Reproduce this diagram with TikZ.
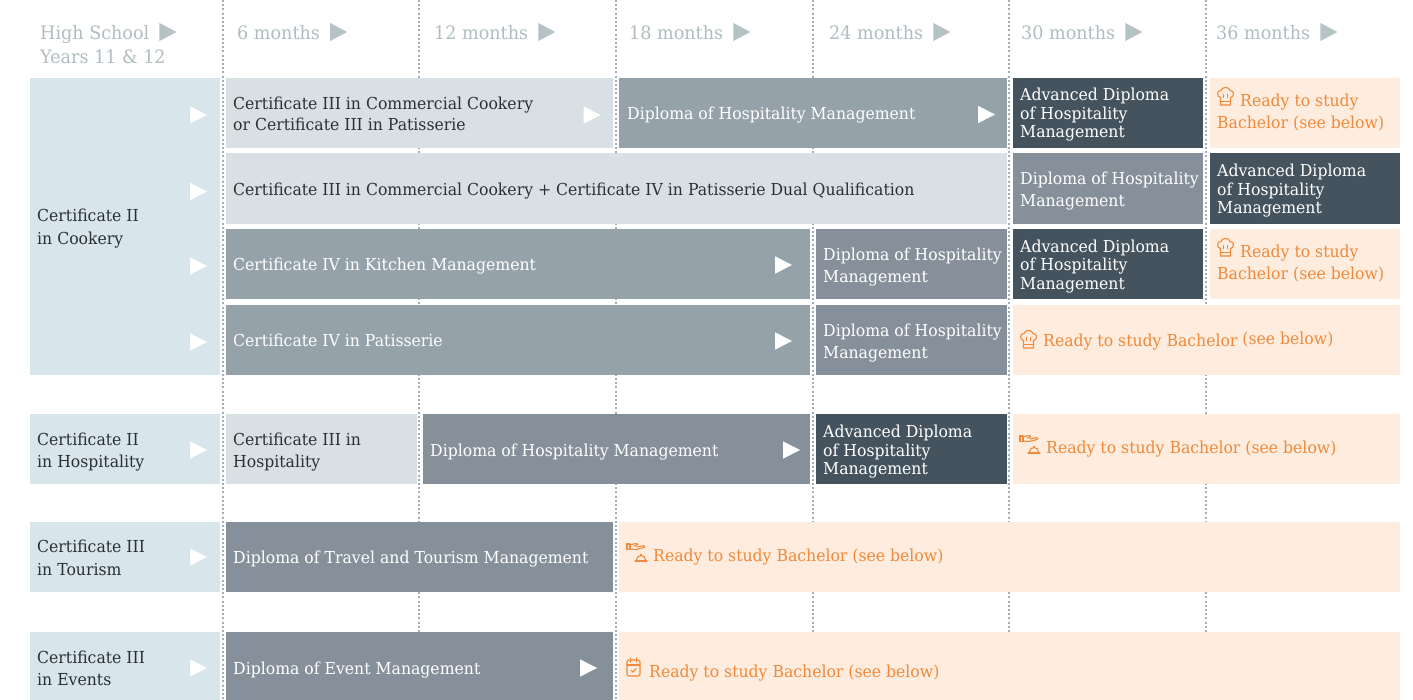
\documentclass[tikz,border=0pt]{standalone}
\usepackage{fontspec}
\setmainfont{DejaVu Serif}[FakeStretch=0.95]
\definecolor{lblue}{HTML}{D8E6EC}
\definecolor{lgray}{HTML}{D9E0E3}
\definecolor{mgray}{HTML}{95A2A9}
\definecolor{dgray}{HTML}{85909A}
\definecolor{slate}{HTML}{44535E}
\definecolor{peach}{HTML}{FEEDDF}
\definecolor{orng}{HTML}{F0893A}
\definecolor{hdrc}{HTML}{B1BDC0}
\definecolor{hdrtri}{HTML}{B5C3C5}
\definecolor{dotc}{HTML}{A0AFB6}
\definecolor{txtdark}{HTML}{2B3033}
\tikzset{
  txt/.style={anchor=base west, inner sep=0pt, font=\fontsize{16.5}{20}\selectfont},
  dark/.style={txt, text=txtdark},
  wht/.style={txt, text=white},
  org/.style={txt, text=orng},
  hdr/.style={anchor=base west, inner sep=0pt, font=\fontsize{18.5}{22}\selectfont, text=hdrc},
  dotline/.style={draw=dotc, line width=2pt, dash pattern=on 2pt off 2.2pt},
  icon/.style={draw=orng, line width=1.1pt, line join=round, line cap=round},
  chefhat/.pic={
    \draw[icon] (3.5,10.5) .. controls (-0.5,10) and (-0.5,3) .. (4,3.5) .. controls (4.5,-0.5) and (12.5,-0.5) .. (13,3.5) .. controls (17.5,3) and (17.5,10) .. (13.5,10.5) -- (13.5,18) -- (3.5,18) -- cycle;
    \draw[icon] (3.5,14.5) -- (13.5,14.5);
    \draw[icon] (6.8,7.5) -- (6.8,10.5);
    \draw[icon] (10.2,7.5) -- (10.2,10.5);
  },
  bellhand/.pic={
    \draw[icon] (0,1) rectangle (3,6.5);
    \draw[icon] (3,1.8) -- (9,0.5) .. controls (11,0.2) and (11.5,2) .. (9.5,2.5) -- (7,3);
    \draw[icon] (3,6) -- (9,6.5) -- (17,4.5) .. controls (18.5,4) and (18,2.3) .. (16.5,2.7) -- (10,4);
    \draw[icon] (9.5,17) arc (180:360:4.5);
    \draw[icon] (14,12.5) -- (14,11.3);
    \draw[icon] (8,18) -- (20,18);
  },
  calcheck/.pic={
    \draw[icon, rounded corners=1.5pt] (0,3) rectangle (13,19);
    \draw[icon] (0,8) -- (13,8);
    \draw[icon] (3.5,1) -- (3.5,5);
    \draw[icon] (9.5,1) -- (9.5,5);
    \draw[icon] (4,13.2) -- (6,15.2) -- (9.3,11.2);
  }
}
\newcommand\wtri[2]{\fill[white] (#1,#2) ++(0,-8.7) -- ++(17,8.7) -- ++(-17,8.7) -- cycle;}
\newcommand\htri[1]{\fill[hdrtri] (#1.base east) ++(10,-17) -- ++(17,9) -- ++(-17,9) -- cycle;}
\begin{document}
\begin{tikzpicture}[x=1pt,y=-1pt]
\useasboundingbox (0,0) rectangle (1413,700);
\fill[white] (0,0) rectangle (1413,700);
% dotted column lines
\foreach \xx in {222.5,419.2,615.9,812.6,1009.3,1206}
  \draw[dotline] (\xx,0) -- (\xx,700);
% header
\node[hdr] (hs1) at (40,40) {High School};
\htri{hs1}
\node[hdr] (hs2) at (40,64) {Years 11 \& 12};
\node[hdr] (m6) at (237,40) {6 months}; \htri{m6}
\node[hdr] (m12) at (434,40) {12 months}; \htri{m12}
\node[hdr] (m18) at (629,40) {18 months}; \htri{m18}
\node[hdr] (m24) at (829,40) {24 months}; \htri{m24}
\node[hdr] (m30) at (1021,40) {30 months}; \htri{m30}
\node[hdr] (m36) at (1216,40) {36 months}; \htri{m36}
% ---- boxes ----
% cookery block
\fill[lblue] (30,78) rectangle (219.7,375);
\fill[lgray] (226,78) rectangle (613.2,148.3);
\fill[mgray] (619.4,78) rectangle (1006.6,148.3);
\fill[slate] (1012.8,78) rectangle (1203.3,148.3);
\fill[peach] (1209.5,78) rectangle (1400,148.3);
\fill[lgray] (226,153.5) rectangle (1006.6,224);
\fill[dgray] (1012.8,153.5) rectangle (1203.3,224);
\fill[slate] (1209.5,153.5) rectangle (1400,224);
\fill[mgray] (226,229.3) rectangle (809.9,299.3);
\fill[dgray] (816.1,229.3) rectangle (1006.6,299.3);
\fill[slate] (1012.8,229.3) rectangle (1203.3,299.3);
\fill[peach] (1209.5,229.3) rectangle (1400,299.3);
\fill[mgray] (226,305) rectangle (809.9,375);
\fill[dgray] (816.1,305) rectangle (1006.6,375);
\fill[peach] (1012.8,305) rectangle (1400,375);
% hospitality
\fill[lblue] (30,414) rectangle (219.7,484);
\fill[lgray] (226,414) rectangle (416.5,484);
\fill[dgray] (422.7,414) rectangle (809.9,484);
\fill[slate] (816.1,414) rectangle (1006.6,484);
\fill[peach] (1012.8,414) rectangle (1400,484);
% tourism
\fill[lblue] (30,521.7) rectangle (219.7,591.7);
\fill[dgray] (226,521.7) rectangle (613.2,591.7);
\fill[peach] (619.4,521.7) rectangle (1400,591.7);
% events
\fill[lblue] (30,632) rectangle (219.7,700);
\fill[dgray] (226,632) rectangle (613.2,700);
\fill[peach] (619.4,632) rectangle (1400,700);
% ---- triangles ----
\wtri{190}{115}
\wtri{190}{191.5}
\wtri{190}{266}
\wtri{190}{342}
\wtri{190}{450}
\wtri{190}{557}
\wtri{190}{668}
\wtri{583.5}{115}
\wtri{978}{114.5}
\wtri{775}{265}
\wtri{775}{341}
\wtri{783}{450}
\wtri{580}{668}
% ---- texts ----
\node[dark] (ck1) at (37,222) {Certificate II};
\node[dark] (ck2) at (37,245) {in Cookery};
\node[dark] (hp1) at (37,445) {Certificate II};
\node[dark] (hp2) at (37,467) {in Hospitality};
\node[dark] (tr1) at (37,552) {Certificate III};
\node[dark] (tr2) at (37,575) {in Tourism};
\node[dark] (ev1) at (37,663) {Certificate III};
\node[dark] (ev2) at (37,685) {in Events};
% row 1
\node[dark] (r1a) at (233,110) {Certificate III in Commercial Cookery};
\node[dark] (r1b) at (233,131) {or Certificate III in Patisserie};
\node[wht] (r1c) at (627,120) {Diploma of Hospitality Management};
\node[wht] (r1d) at (1020,101) {Advanced Diploma};
\node[wht] (r1e) at (1020,120) {of Hospitality};
\node[wht] (r1f) at (1020,138) {Management};
\pic at (1217,87) {chefhat};
\node[org] (r1g) at (1240,106.5) {Ready to study};
\node[org] (r1h) at (1217,129) {Bachelor (see below)};
% row 2
\node[dark] (r2a) at (233,196) {Certificate III in Commercial Cookery + Certificate IV in Patisserie Dual Qualification};
\node[wht] (r2b) at (1020,185) {Diploma of Hospitality};
\node[wht] (r2c) at (1020,207) {Management};
\node[wht] (r2d) at (1217,177) {Advanced Diploma};
\node[wht] (r2e) at (1217,196) {of Hospitality};
\node[wht] (r2f) at (1217,214) {Management};
% row 3
\node[wht] (r3a) at (233,271) {Certificate IV in Kitchen Management};
\node[wht] (r3b) at (823,260.5) {Diploma of Hospitality};
\node[wht] (r3c) at (823,282.5) {Management};
\node[wht] (r3d) at (1020,252.5) {Advanced Diploma};
\node[wht] (r3e) at (1020,271) {of Hospitality};
\node[wht] (r3f) at (1020,289.5) {Management};
\pic at (1217,238) {chefhat};
\node[org] (r3g) at (1240,258) {Ready to study};
\node[org] (r3h) at (1217,280) {Bachelor (see below)};
% row 4
\node[wht] (r4a) at (233,347) {Certificate IV in Patisserie};
\node[wht] (r4b) at (823,336.5) {Diploma of Hospitality};
\node[wht] (r4c) at (823,358.5) {Management};
\pic at (1020,330) {chefhat};
\node[org] (r4d) at (1043,347) {Ready to study Bachelor \raisebox{2.5pt}{(see below)}};
% hospitality row
\node[dark] (h1) at (233,445) {Certificate III in};
\node[dark] (h2) at (233,467) {Hospitality};
\node[wht] (h3) at (430,456) {Diploma of Hospitality Management};
\node[wht] (h4) at (823,437) {Advanced Diploma};
\node[wht] (h5) at (823,456) {of Hospitality};
\node[wht] (h6) at (823,474.5) {Management};
\pic at (1020,435) {bellhand};
\node[org] (h7) at (1046,453) {Ready to study Bachelor (see below)};
% tourism row
\node[wht] (t1) at (233,563) {Diploma of Travel and Tourism Management};
\pic at (627,543) {bellhand};
\node[org] (t2) at (653,561) {Ready to study Bachelor (see below)};
% events row
\node[wht] (e1) at (233,674) {Diploma of Event Management};
\pic at (627,657) {calcheck};
\node[org] (e2) at (649,677) {Ready to study Bachelor (see below)};
\end{tikzpicture}
\end{document}
